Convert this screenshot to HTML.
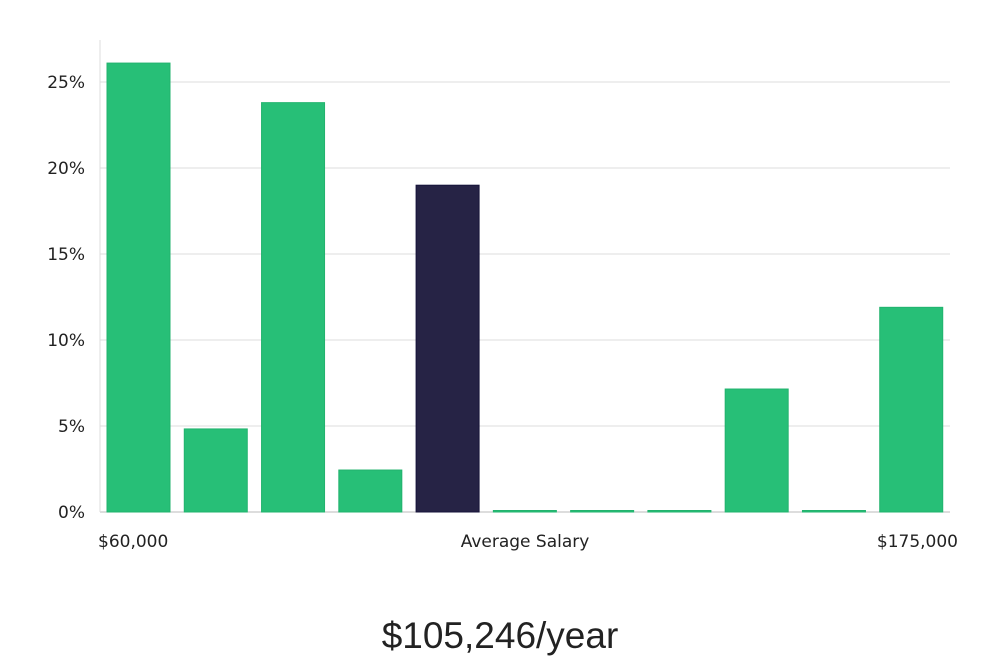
<!DOCTYPE html>
<html><head><meta charset="utf-8"><style>
body{margin:0;background:#fff;width:1000px;height:660px;overflow:hidden;font-family:"DejaVu Sans","Liberation Sans",sans-serif;}
svg{display:block}
</style></head><body>
<svg id="chart" width="1000" height="660" xmlns="http://www.w3.org/2000/svg"></svg>
<script>
const categories=["b1","b2","b3","b4","b5","b6","b7","b8","b9","b10","b11"];
const values=[26.1,4.83,23.8,2.44,19.0,0.05,0.05,0.05,7.15,0.05,11.9];
const highlight=[false,false,false,false,true,false,false,false,false,false,false];
const yTicks=[0,5,10,15,20,25];
const yTickLabels=["0%","5%","10%","15%","20%","25%"];
const xLabels=["$60,000","Average Salary","$175,000"];
const summary="$105,246/year";

const NS="http://www.w3.org/2000/svg";
const svg=document.getElementById('chart');
const x0=100,x1=950,yBase=512,pxPer=17.2;
const y=v=>yBase-v*pxPer;
const step=(x1-x0)/categories.length;
const bw=63;
const bx=i=>x0+7+i*step;
function mk(t,a){const e=document.createElementNS(NS,t);for(const k in a)e.setAttribute(k,a[k]);svg.appendChild(e);return e;}
yTicks.forEach((t,i)=>{
  const g=mk('line',{x1:x0,x2:x1,y1:y(t),y2:y(t),stroke:i===0?'#bbb':'#dcdcdc','stroke-width':1});
  
  
  const l=mk('text',{x:85,y:y(t)+6,'text-anchor':'end','font-size':17,fill:'#222'});
  l.textContent=yTickLabels[i];
  
  
});
const ax=mk('line',{x1:x0,x2:x0,y1:40,y2:yBase,stroke:'#ddd'});


categories.forEach((c,i)=>{
  const v=values[i];
  const h=Math.max(v*pxPer,1.5);
  const r=mk('rect',{x:bx(i),y:yBase-h,width:bw,height:h,fill:highlight[i]?'#262345':'#27bf77',stroke:highlight[i]?'#16133a':'#22b36e','stroke-width':1});
  
  
});
const xl=[[98,'start'],[525,'middle'],[958,'end']];
xLabels.forEach((s,i)=>{
  const t=mk('text',{x:xl[i][0],y:547,'text-anchor':xl[i][1],'font-size':17,fill:'#222'});
  t.textContent=s;
  
  
});
const s=mk('text',{x:500,y:648,'text-anchor':'middle','font-size':37,fill:'#222','font-family':'"Liberation Sans",sans-serif'});
s.textContent=summary;


</script>
</body></html>
